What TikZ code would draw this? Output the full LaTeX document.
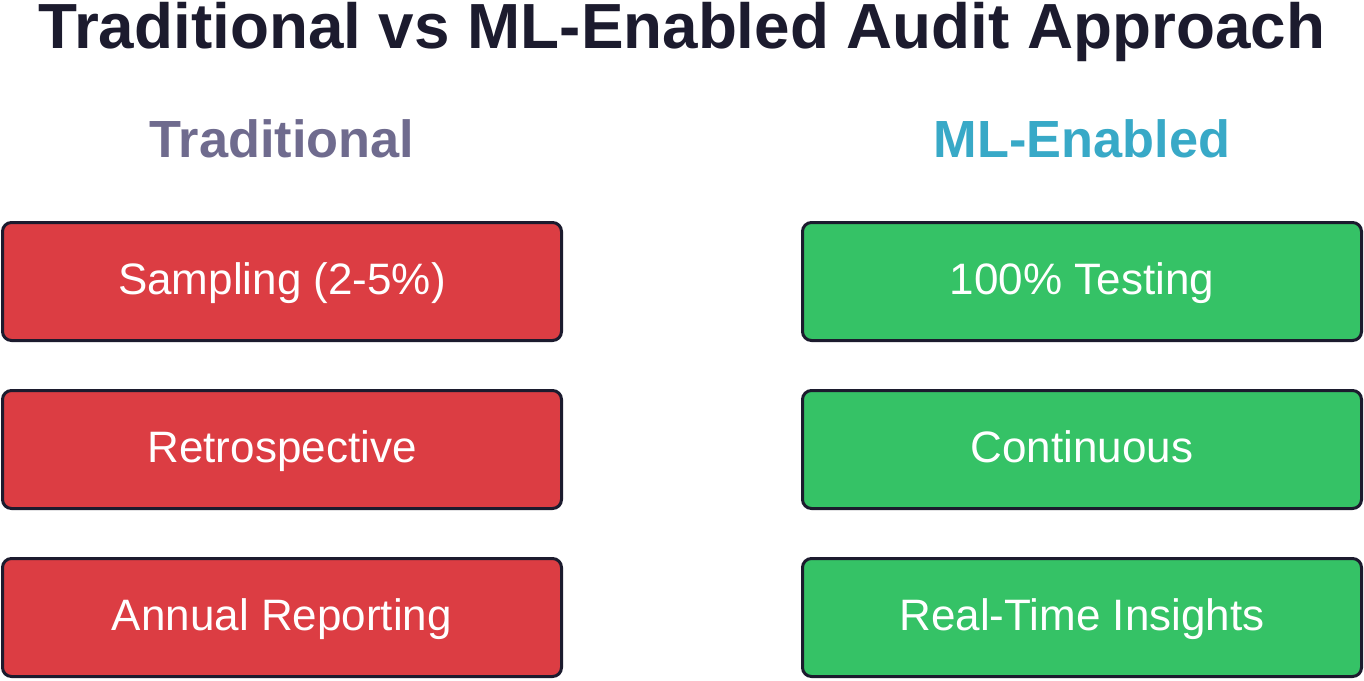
\documentclass[tikz,border=0pt]{standalone}
\usepackage{fontspec}
\setmainfont{Liberation Sans}
\definecolor{titlec}{HTML}{1C1B2E}
\definecolor{tradc}{HTML}{6F6B8E}
\definecolor{mlc}{HTML}{38A9C7}
\definecolor{redc}{HTML}{DC3D43}
\definecolor{greenc}{HTML}{35C266}
\definecolor{edgec}{HTML}{1C1B2E}
\tikzset{
  box/.style={draw=edgec, line width=3pt, rounded corners=9pt, minimum width=559pt, minimum height=118pt, inner sep=0pt, text height=31.5pt, text depth=5pt, text=white, font=\fontsize{44}{50}\selectfont},
  redbox/.style={box, fill=redc},
  greenbox/.style={box, fill=greenc},
  heading/.style={anchor=base, font=\bfseries\fontsize{52.3}{58}\selectfont},
}
\begin{document}
\begin{tikzpicture}[x=1pt,y=-1pt]
\useasboundingbox[fill=white] (0,0) rectangle (1364,680);
\node[anchor=base, text=titlec, font=\bfseries\fontsize{63.8}{70}\selectfont] (title) at (682,48) {Traditional vs ML-Enabled Audit Approach};
\node[heading, text=tradc] (trad) at (282,157) {Traditional};
\node[heading, text=mlc] (ml) at (1082,157) {ML-Enabled};
\node[redbox] (t1) at (282,281.5) {Sampling (2-5\%)};
\node[redbox] (t2) at (282,449.5) {Retrospective};
\node[redbox] (t3) at (282,617.5) {Annual Reporting};
\node[greenbox] (m1) at (1082,281.5) {100\% Testing};
\node[greenbox] (m2) at (1082,449.5) {Continuous};
\node[greenbox] (m3) at (1082,617.5) {Real-Time Insights};
\end{tikzpicture}
\end{document}
